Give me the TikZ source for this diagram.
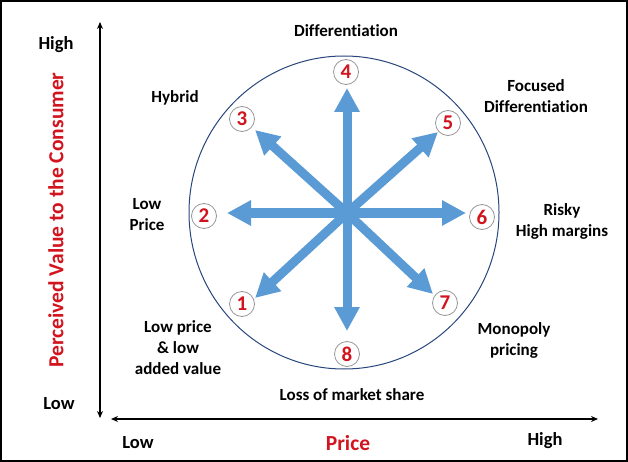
\documentclass[tikz,border=0pt]{standalone}
\usepackage{fontspec}
\setmainfont[Ligatures=NoCommon]{Carlito}
\usetikzlibrary{arrows.meta}
\definecolor{arrowblue}{RGB}{91,155,213}
\definecolor{navy}{RGB}{40,70,125}
\definecolor{txtred}{RGB}{210,20,30}
\definecolor{ringgray}{RGB}{150,150,150}
\begin{document}
\begin{tikzpicture}[x=1pt,y=-1pt,
  lbl/.style={font=\bfseries\fontsize{17}{21}\selectfont, align=center, inner sep=0pt},
  axlbl/.style={font=\bfseries\fontsize{18.5}{21}\selectfont, inner sep=0pt},
  redlbl/.style={font=\bfseries\fontsize{21.5}{24}\selectfont, text=txtred, inner sep=0pt},
  num/.style={circle, draw=ringgray, line width=0.8pt, fill=white, minimum size=25pt, inner sep=0pt,
              font=\bfseries\fontsize{21}{22}\selectfont, text=txtred},
  bigarrow/.style={draw=arrowblue, line width=9pt, -{Triangle[width=24pt,length=24pt]}},
  axis/.style={line width=1.2pt, {Stealth[length=7pt,width=6pt]}-{Stealth[length=7pt,width=6pt]}}
]
\useasboundingbox (0,0) rectangle (628,462);
\draw[line width=2pt] (1,1) rectangle (627,461);

% axes
\coordinate (vtop) at (100,22);
\coordinate (vbot) at (100,418);
\coordinate (hleft) at (111,419);
\coordinate (hright) at (598,419);
\draw[axis] (vtop) -- (vbot);
\draw[axis] (hleft) -- (hright);

\node[axlbl] (vhigh) at (56,45) {High};
\node[axlbl] (vlow) at (59,404) {Low};
\node[axlbl] (hlow) at (138,443) {Low};
\node[axlbl] (hhigh) at (545,441) {High};
\node[redlbl] (price) at (348,443) {Price};
\node[redlbl, rotate=90] (pv) at (56,220) {Perceived Value to the Consumer};

% ellipse
\draw[navy, line width=1pt] (344,212.5) ellipse [x radius=155, y radius=156.5];

% center and arrow tips
\coordinate (c) at (347,213);
\coordinate (t4) at (347,88);
\coordinate (t8) at (347,331);
\coordinate (t2) at (227,213);
\coordinate (t6) at (466,213);
\coordinate (t3) at (255,130);
\coordinate (t5) at (438,132);
\coordinate (t1) at (255,298);
\coordinate (t7) at (433,294);
\foreach \t in {t1,t2,t3,t4,t5,t6,t7,t8} {\draw[bigarrow] (c) -- (\t);}

% number circles
\node[num] (n4) at (346,72) {4};
\node[num] (n3) at (242,119) {3};
\node[num] (n5) at (448,123) {5};
\node[num] (n2) at (204,216) {2};
\node[num] (n6) at (482,217) {6};
\node[num] (n1) at (242,304) {1};
\node[num] (n7) at (445,303) {7};
\node[num] (n8) at (347,354) {8};

% labels
\node[lbl] (ldiff) at (346,31) {Differentiation};
\node[lbl] (lhyb) at (175,98) {Hybrid};
\node[lbl] (lfoc) at (536,96) {Focused\\Differentiation};
\node[lbl] (llow) at (147,215) {Low\\Price};
\node[lbl] (lrisk) at (562,221) {Risky\\High margins};
\node[lbl] (llpv) at (178,348) {Low price\\\& low\\added value};
\node[lbl] (lmono) at (514,340) {Monopoly\\pricing};
\node[lbl] (lloss) at (352,395) {Loss of market share};
\end{tikzpicture}
\end{document}
